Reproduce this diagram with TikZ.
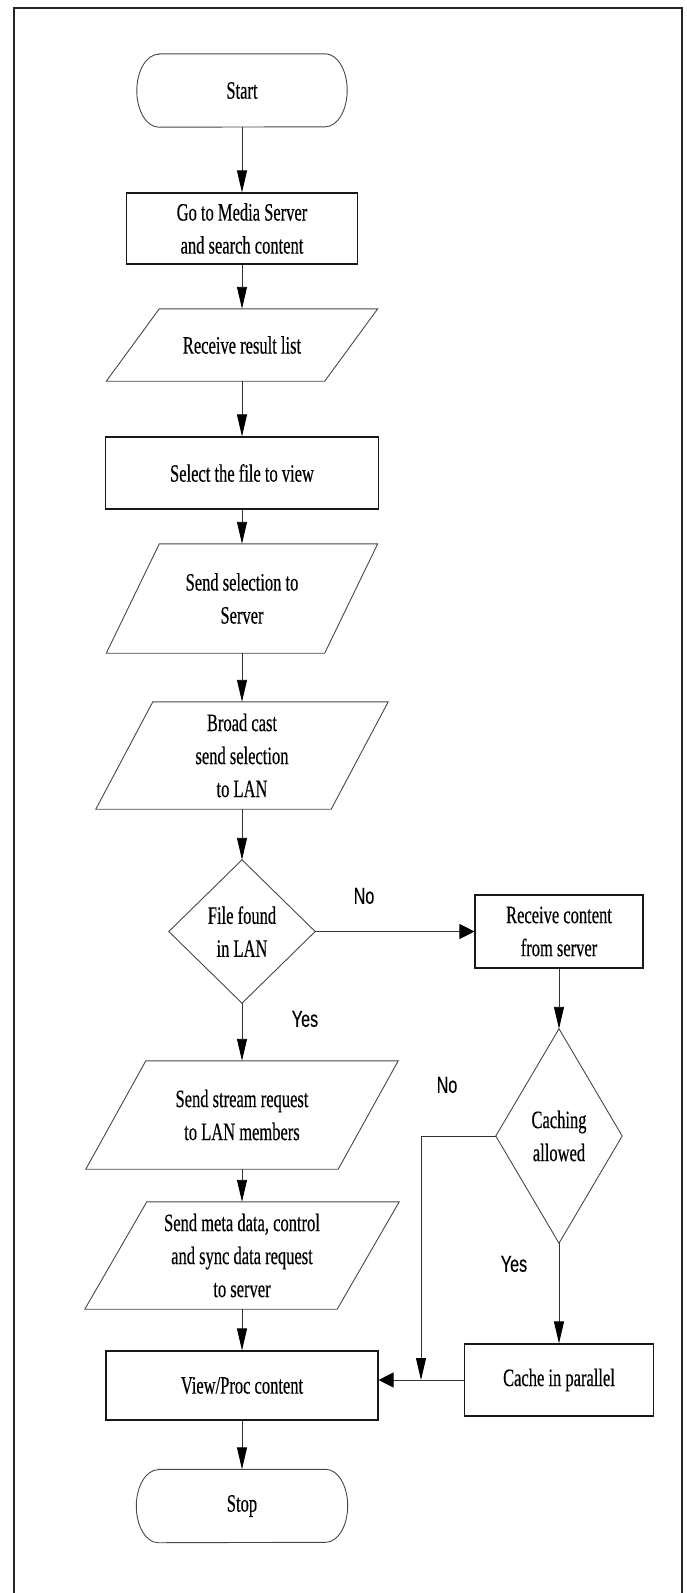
\documentclass[tikz,border=0pt]{standalone}
\usepackage{fontspec}
\setmainfont{Liberation Serif}
\newfontfamily\nodefont[FakeStretch=0.66,FakeBold=0.4]{Liberation Serif}
\newfontfamily\labfont[FakeStretch=0.7,FakeBold=0.3]{Liberation Sans}
\usetikzlibrary{arrows.meta}
\newcommand{\paraline}[2]{\draw[outline] ([xshift=#2]#1.north west) -- (#1.north east) -- ([xshift=-#2]#1.south east) -- (#1.south west) -- cycle;}
\newcommand{\diamline}[1]{\draw[outline] (#1.north) -- (#1.east) -- (#1.south) -- (#1.west) -- cycle;}
\newcommand{\termline}[1]{\draw[outline] ([xshift=22pt]#1.north west) -- ([xshift=-22pt]#1.north east) arc[start angle=90,end angle=-90,x radius=22pt,y radius=0.5*\pgfkeysvalueof{/tikz/termh}] -- ([xshift=22pt]#1.south west) arc[start angle=270,end angle=90,x radius=22pt,y radius=0.5*\pgfkeysvalueof{/tikz/termh}] -- cycle;}
\begin{document}
\begin{tikzpicture}[x=1pt,y=-1pt,
  termh/.initial=73pt,
  txt/.style={rectangle, inner sep=0pt, align=center, font=\nodefont\fontsize{25pt}{33pt}\selectfont},
  blank/.style={txt},
  box/.style={txt, draw=black!90, line width=1.1pt},
  outline/.style={draw=black!72, line width=0.9pt},
  conn/.style={draw=black!80, line width=0.9pt},
  varr/.style={conn, -{Triangle[length=22pt,width=10pt,color=black]}},
  harr/.style={conn, -{Triangle[length=15pt,width=15pt,color=black]}},
  lab/.style={inner sep=0pt, font=\labfont\fontsize{23pt}{27pt}\selectfont}]
\useasboundingbox (0,0) rectangle (686,1593);
% frame
\draw[line width=2pt, black!85] (14,1600) -- (14,8) -- (682,8) -- (682,1600);
% main column
\node[blank, minimum width=210pt, minimum height=73pt] (start) at (242,90.5) {Start};
\node[box, minimum width=231pt, minimum height=71pt] (goto) at (242,228.5) {Go to Media Server\\and search content};
\node[blank, minimum width=271pt, minimum height=72pt] (recv) at (242,345) {Receive result list};
\node[box, minimum width=273pt, minimum height=72pt] (sel) at (242,473) {Select the file to view};
\node[blank, minimum width=271pt, minimum height=109pt] (sendsel) at (242,598.5) {Send selection to\\Server};
\node[blank, minimum width=292pt, minimum height=107pt] (bcast) at (242,755.5) {Broad cast\\send selection\\to LAN};
\node[blank, minimum width=146pt, minimum height=143pt] (found) at (242,931.5) {File found\\in LAN};
\node[blank, minimum width=312pt, minimum height=108pt] (stream) at (242,1115) {Send stream request\\to LAN members};
\node[blank, minimum width=314pt, minimum height=107pt] (meta) at (242,1255.5) {Send meta data, control\\and sync data request\\to server};
\node[box, minimum width=272pt, minimum height=69pt] (view) at (242,1385.5) {View/Proc content};
\node[blank, minimum width=211pt, minimum height=73pt] (stop) at (242,1506) {Stop};
% right column
\node[box, minimum width=168pt, minimum height=73pt] (rc) at (559,931.5) {Receive content\\from server};
\node[blank, minimum width=126pt, minimum height=214pt] (cach) at (559,1136) {Caching\\allowed};
\node[box, minimum width=189pt, minimum height=72pt] (cache) at (559,1380) {Cache in parallel};
% outlines
\termline{start}
\termline{stop}
\paraline{recv}{53pt}
\paraline{sendsel}{53pt}
\paraline{bcast}{57pt}
\paraline{stream}{60pt}
\paraline{meta}{62pt}
\diamline{found}
\diamline{cach}
% labels
\node[lab] (no1) at (364,896) {No};
\node[lab] (yes1) at (305,1019) {Yes};
\node[lab] (no2) at (447,1085) {No};
\node[lab] (yes2) at (514,1264) {Yes};
% connectors
\coordinate (bend) at (421,1136);
\coordinate (join) at (421,1380);
\draw[varr] (start.south) -- (goto.north);
\draw[varr] (goto.south) -- (recv.north);
\draw[varr] (recv.south) -- (sel.north);
\draw[varr] (sel.south) -- (sendsel.north);
\draw[varr] (sendsel.south) -- (bcast.north);
\draw[varr] (bcast.south) -- (found.north);
\draw[varr] (found.south) -- (stream.north);
\draw[varr] (stream.south) -- (meta.north);
\draw[varr] (meta.south) -- (view.north);
\draw[varr] (view.south) -- (stop.north);
\draw[harr] (found.east) -- (rc.west);
\draw[varr] (rc.south) -- (cach.north);
\draw[varr] (cach.south) -- (cache.north);
\draw[conn] (cach.west) -- (bend);
\draw[varr] (bend) -- (join);
\draw[harr] (cache.west) -- (view.east |- cache.west);
\end{tikzpicture}
\end{document}
